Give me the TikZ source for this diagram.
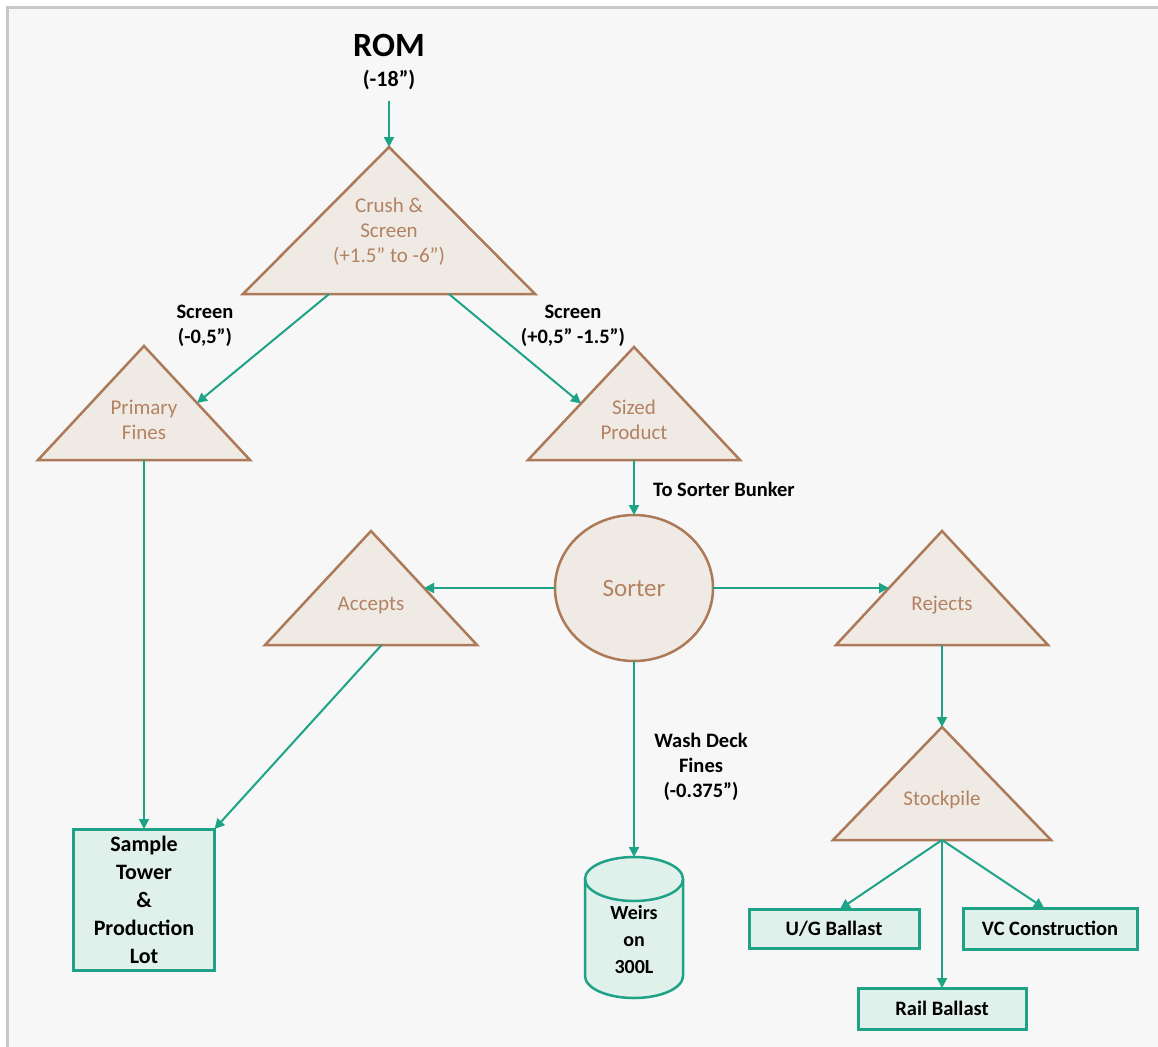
\documentclass[tikz,border=0pt]{standalone}
\usepackage{fontspec}
\setmainfont{Carlito}
\usetikzlibrary{arrows.meta,calc,shapes.geometric}
\definecolor{teal1}{RGB}{30,163,135}
\definecolor{trifill}{RGB}{240,234,229}
\definecolor{triedge}{RGB}{172,122,88}
\definecolor{tritxt}{RGB}{178,130,98}
\definecolor{boxfill}{RGB}{224,240,235}
\definecolor{bgc}{RGB}{247,247,247}
\definecolor{framec}{RGB}{200,200,200}
\tikzset{
 tri/.style={fill=trifill,draw=triedge,line width=2.5pt,line join=miter},
 tritext/.style={text=tritxt,font=\fontsize{21}{25}\selectfont,align=center,inner sep=0},
 lbl/.style={font=\bfseries\fontsize{20.5}{25}\selectfont,align=center,inner sep=0},
 flow/.style={draw=teal1,line width=2pt,-{Triangle[length=10pt,width=10pt]}},
 boxn/.style={draw=teal1,fill=boxfill,line width=3pt,inner sep=0,outer sep=0,align=center,font=\bfseries\fontsize{20.5}{24}\selectfont},
 cylshape/.style={draw=teal1,fill=boxfill,line width=2.5pt},
}
\newcommand\trinode[5]{%
  \coordinate (#1-apex) at (#2,-#3);
  \coordinate (#1-left) at ({#2-#4},{-#3-#5});
  \coordinate (#1-right) at ({#2+#4},{-#3-#5});
  \coordinate (#1-base) at (#2,{-#3-#5});
  \filldraw[tri] (#1-apex) -- (#1-right) -- (#1-left) -- cycle;
}
\begin{document}
\begin{tikzpicture}[x=1pt,y=1pt]
\useasboundingbox (0,0) rectangle (1158,-1046);
\fill[white] (0,0) rectangle (1158,-1046);
\begin{scope}
\clip (0,0) rectangle (1158,-1046);
\filldraw[fill=bgc,draw=framec,line width=3pt] (7,-8) rectangle (1175,-1065);
\end{scope}

% title
\node[font=\bfseries\fontsize{34}{40}\selectfont,inner sep=0] (rom) at (389,-45) {ROM};
\node[font=\bfseries\fontsize{22}{26}\selectfont,inner sep=0] (rom18) at (389,-80) {(-18”)};
\coordinate (romout) at (389,-101);

% triangles
\trinode{crush}{389}{147}{146}{147}
\trinode{pf}{144}{346}{106}{114}
\trinode{sz}{634}{347}{106}{113}
\trinode{acc}{371}{531}{106}{114}
\trinode{rej}{942}{531}{106}{114}
\trinode{sp}{942}{727}{109}{113}

\node[tritext] (crushtxt) at (389,-232) {Crush \&\\Screen\\(+1.5” to -6”)};
\node[tritext] (pftxt) at (144,-420) {Primary\\Fines};
\node[tritext] (sztxt) at (634,-420) {Sized\\Product};
\node[tritext] (acctxt) at (371,-605) {Accepts};
\node[tritext] (rejtxt) at (942,-605) {Rejects};
\node[tritext] (sptxt) at (942,-800) {Stockpile};

% sorter
\node[ellipse,draw=triedge,fill=trifill,line width=2.5pt,minimum width=158,minimum height=146,inner sep=0,outer sep=0,text=tritxt,font=\fontsize{25}{30}\selectfont] (sorter) at (634,-588) {Sorter};

% boxes
\node[boxn,minimum width=141,minimum height=141,font=\bfseries\fontsize{22}{28}\selectfont] (sample) at (144,-899.5) {Sample\\Tower\\\&\\Production\\Lot};
\node[boxn,minimum width=170,minimum height=39] (ug) at (834,-928.5) {U/G Ballast};
\node[boxn,minimum width=174,minimum height=41] (vc) at (1050,-928.5) {VC Construction};
\node[boxn,minimum width=168,minimum height=41] (rail) at (942,-1008.5) {Rail Ballast};

% cylinder
\node[minimum width=98,minimum height=141,inner sep=0,outer sep=0] (cyl) at (634,-927.5) {};
\filldraw[cylshape] (585,-879) -- (585,-976) arc[start angle=180,end angle=360,x radius=49,y radius=22] -- (683,-879) arc[start angle=0,end angle=180,x radius=49,y radius=22] -- cycle;
\draw[cylshape,fill=none] (585,-879) arc[start angle=180,end angle=360,x radius=49,y radius=22];
\node[font=\bfseries\fontsize{20}{27}\selectfont,align=center,inner sep=0] (weirs) at (634,-940) {Weirs\\on\\300L};

% labels
\node[lbl] (scrL) at (205,-326) {Screen\\(-0,5”)};
\node[lbl] (scrR) at (573,-326) {Screen\\(+0,5” -1.5”)};
\node[lbl,anchor=west] (tsb) at (653,-489) {To Sorter Bunker};
\node[lbl] (wdf) at (701,-767) {Wash Deck\\Fines\\(-0.375”)};

% connectors
\draw[flow] (romout) -- (crush-apex);
\draw[flow] ($(crush-left)!0.295!(crush-right)$) -- ($(pf-apex)!0.5!(pf-right)$);
\draw[flow] ($(crush-left)!0.705!(crush-right)$) -- ($(sz-apex)!0.5!(sz-left)$);
\draw[flow] (sz-base) -- (sorter.north);
\draw[flow] (sorter.west) -- ($(acc-apex)!0.5!(acc-right)$);
\draw[flow] (sorter.east) -- ($(rej-apex)!0.5!(rej-left)$);
\draw[flow] (sorter.south) -- (cyl.north);
\draw[flow] (pf-base) -- (sample.north);
\draw[flow] ($(acc-left)!0.55!(acc-right)$) -- (sample.north east);
\draw[flow] (rej-base) -- (sp-apex);
\draw[flow] (sp-base) -- ($(ug.north)+(6,0)$);
\draw[flow] (sp-base) -- ($(vc.north)+(-6,0)$);
\draw[flow] (sp-base) -- (rail.north);
\end{tikzpicture}
\end{document}
